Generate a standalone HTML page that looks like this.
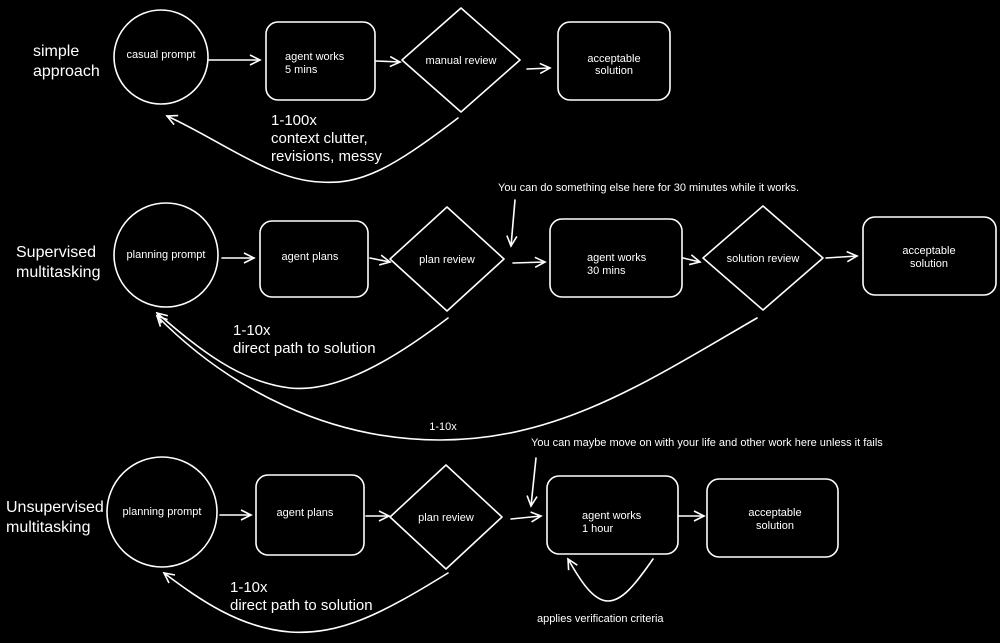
<!DOCTYPE html>
<html><head><meta charset="utf-8"><style>
html,body{margin:0;padding:0;background:#000;}
svg{display:block;}
text{fill:#fff;font-family:"Liberation Sans",sans-serif;}
</style></head><body>
<svg width="1000" height="643" viewBox="0 0 1000 643" xmlns="http://www.w3.org/2000/svg">
<defs>
<marker id="a" markerWidth="14" markerHeight="14" refX="11" refY="6" orient="auto" markerUnits="userSpaceOnUse">
<path d="M1,1 L11,6 L1,11" fill="none" stroke="#fff" stroke-width="1.6"/>
</marker>
</defs>
<g fill="none" stroke="#fff" stroke-width="1.6" stroke-linecap="round" stroke-linejoin="round">
<!-- Row 1 -->
<circle cx="161" cy="57" r="47"/>
<path d="M209,60 L260,60" marker-end="url(#a)"/>
<rect x="266" y="22" width="109" height="78" rx="12"/>
<path d="M376,61 L400,62" marker-end="url(#a)"/>
<path d="M461,8 L520,60 L461,112 L402,60 Z"/>
<path d="M527,69 L550,68" marker-end="url(#a)"/>
<rect x="558" y="22" width="112" height="78" rx="12"/>
<path d="M458,118 C390,170 360,185 320,182 C270,180 220,140 167,116" marker-end="url(#a)"/>
<!-- Row 2 -->
<path d="M515,200 L511,246" marker-end="url(#a)"/>
<circle cx="166" cy="255" r="52"/>
<path d="M222,258 L254,258" marker-end="url(#a)"/>
<rect x="260" y="221" width="108" height="76" rx="12"/>
<path d="M370,258 L390,262" marker-end="url(#a)"/>
<path d="M447,207 L504,259 L447,311 L390,259 Z"/>
<path d="M513,263 L545,262" marker-end="url(#a)"/>
<rect x="550" y="219" width="132" height="78" rx="12"/>
<path d="M683,258 L700,262" marker-end="url(#a)"/>
<path d="M763,206 L823,258 L763,310 L703,258 Z"/>
<path d="M826,258 L857,256" marker-end="url(#a)"/>
<rect x="863" y="217" width="133" height="78" rx="12"/>
<path d="M448,318 C380,370 330,392 290,388 C240,382 200,350 157,313" marker-end="url(#a)"/>
<path d="M757,318 C650,380 560,440 440,440 C330,440 230,390 157,316" marker-end="url(#a)"/>
<!-- Row 3 -->
<path d="M536,458 L531,506" marker-end="url(#a)"/>
<circle cx="162" cy="512" r="55"/>
<path d="M220,515 L251,515" marker-end="url(#a)"/>
<rect x="256" y="475" width="108" height="80" rx="12"/>
<path d="M366,516 L389,516" marker-end="url(#a)"/>
<path d="M446,465 L502,517 L446,569 L390,517 Z"/>
<path d="M511,519 L541,516" marker-end="url(#a)"/>
<rect x="547" y="476" width="131" height="78" rx="12"/>
<path d="M678,516 L704,516" marker-end="url(#a)"/>
<rect x="707" y="479" width="131" height="78" rx="12"/>
<path d="M653,559 C635,585 622,601 608,601 C593,601 580,580 568,559" marker-end="url(#a)"/>
<path d="M448,573 C380,615 340,635 290,632 C240,628 200,600 164,573" marker-end="url(#a)"/>
</g>
<!-- Labels -->
<g font-size="16">
<text x="33" y="56">simple</text><text x="33" y="76">approach</text>
<text x="16" y="257">Supervised</text><text x="16" y="277">multitasking</text>
<text x="6" y="512">Unsupervised</text><text x="6" y="532">multitasking</text>
</g>
<g font-size="15">
<text x="271" y="125">1-100x</text>
<text x="271" y="143">context clutter,</text>
<text x="271" y="161">revisions, messy</text>
<text x="233" y="335">1-10x</text>
<text x="233" y="353">direct path to solution</text>
<text x="230" y="592">1-10x</text>
<text x="230" y="610">direct path to solution</text>
</g>
<g font-size="11" text-anchor="middle">
<text x="161" y="58">casual prompt</text>
<text x="461" y="64">manual review</text>
<text x="614" y="62">acceptable</text><text x="614" y="74">solution</text>
<text x="166" y="258">planning prompt</text>
<text x="310" y="260">agent plans</text>
<text x="447" y="263">plan review</text>
<text x="763" y="262">solution review</text>
<text x="929" y="254">acceptable</text><text x="929" y="267">solution</text>
<text x="162" y="515">planning prompt</text>
<text x="305" y="516">agent plans</text>
<text x="446" y="521">plan review</text>
<text x="775" y="516">acceptable</text><text x="775" y="529">solution</text>
<text x="443" y="430">1-10x</text>
</g>
<g font-size="11">
<text x="285" y="60">agent works</text><text x="285" y="73">5 mins</text>
<text x="587" y="261">agent works</text><text x="587" y="274">30 mins</text>
<text x="582" y="519">agent works</text><text x="582" y="532">1 hour</text>
<text x="498" y="191">You can do something else here for 30 minutes while it works.</text>
<text x="531" y="446">You can maybe move on with your life and other work here unless it fails</text>
<text x="537" y="622">applies verification criteria</text>
</g>
</svg>
</body></html>
